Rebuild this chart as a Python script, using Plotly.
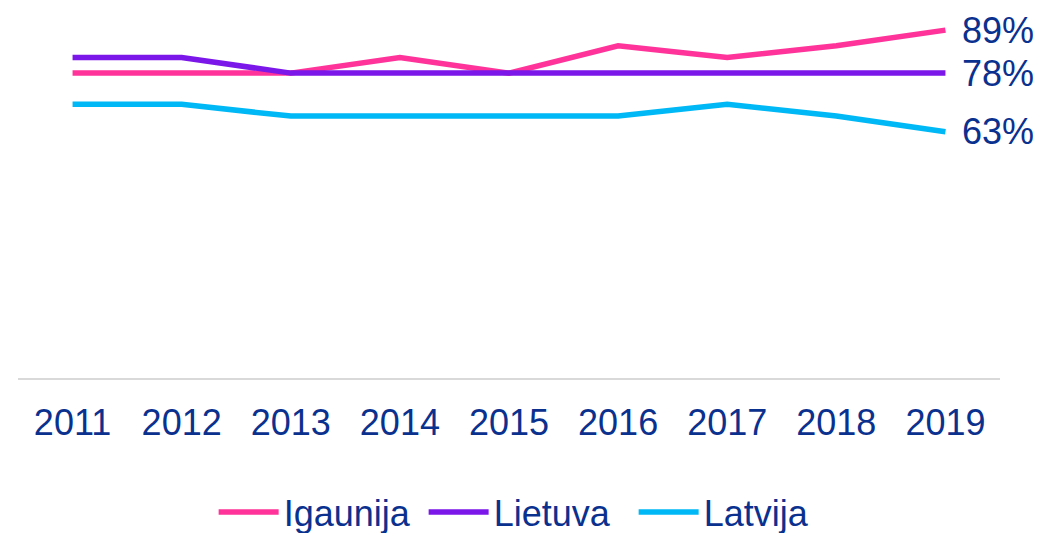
import plotly.graph_objects as go

years = ["2011", "2012", "2013", "2014", "2015", "2016", "2017", "2018", "2019"]
igaunija = [78, 78, 78, 82, 78, 85, 82, 85, 89]
lietuva = [82, 82, 78, 78, 78, 78, 78, 78, 78]
latvija = [70, 70, 67, 67, 67, 67, 70, 67, 63]

series = [
    ("Igaunija", igaunija, "#FF3399"),
    ("Lietuva", lietuva, "#7B17E8"),
    ("Latvija", latvija, "#00B8F5"),
]

text_color = "#0B318F"
font_family = "Liberation Sans, Arial, sans-serif"
fs = 36

fig = go.Figure()
for name, vals, color in series:
    fig.add_trace(go.Scatter(
        x=years, y=vals, name=name, mode="lines",
        line=dict(color=color, width=5.5),
        hoverinfo="skip",
    ))
    fig.add_annotation(
        x=len(years) - 1, y=vals[-1], xref="x", yref="y",
        text=f"{vals[-1]}%",
        showarrow=False, xanchor="left", yanchor="middle", xshift=15,
        font=dict(size=fs, color=text_color, family=font_family),
    )

fig.update_layout(
    width=1040, height=533,
    margin=dict(l=18, r=40, t=0, b=155),
    paper_bgcolor="white", plot_bgcolor="white",
    font=dict(family=font_family, color=text_color, size=fs),
    showlegend=True,
    legend=dict(
        orientation="h", xref="paper", x=0.52, xanchor="center",
        yref="container", y=(533 - 512) / 533, yanchor="middle",
        font=dict(size=fs, color=text_color, family=font_family),
        itemwidth=60, entrywidth=135, tracegroupgap=0,
    ),
    xaxis=dict(
        type="category", range=[-0.5, 8.5],
        showline=True, linecolor="#D9D9D9", linewidth=2,
        showgrid=False, ticks="", ticklabelstandoff=12,
        tickfont=dict(size=fs, color=text_color, family=font_family),
        fixedrange=True,
    ),
    yaxis=dict(
        range=[0, 96.7], showgrid=False, zeroline=False,
        showticklabels=False, showline=False, fixedrange=True,
    ),
)

fig.write_html("out.html", post_script="document.body.style.margin='0';",
               config={"displayModeBar": False})
